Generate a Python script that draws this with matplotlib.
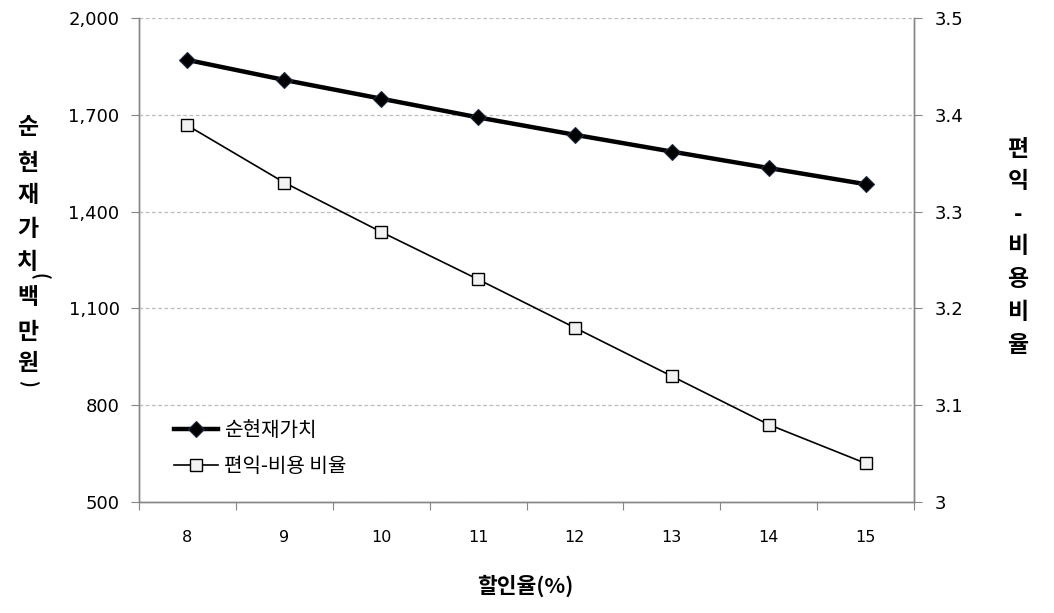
import matplotlib
matplotlib.use("Agg")
import matplotlib.pyplot as plt
from matplotlib.ticker import FixedLocator, FuncFormatter, NullFormatter

plt.rcParams['font.family'] = ['Noto Sans CJK KR', 'DejaVu Sans']

discount_rates = [8, 9, 10, 11, 12, 13, 14, 15]
npv = [1870, 1808, 1750, 1692, 1638, 1586, 1535, 1485]
bc_ratio = [3.389, 3.330, 3.279, 3.230, 3.180, 3.130, 3.080, 3.040]
left_ticks = [500, 800, 1100, 1400, 1700, 2000]
right_ticks = [3.0, 3.1, 3.2, 3.3, 3.4, 3.5]
right_tick_labels = ['3', '3.1', '3.2', '3.3', '3.4', '3.5']
npv_label = '순현재가치'
bc_label = '편익-비용 비율'

W, H = 1054, 613
fig = plt.figure(figsize=(W / 100, H / 100), dpi=100)
ax = fig.add_axes([139 / W, 1 - 502 / H, (914 - 139) / W, (502 - 18) / H])
ax2 = ax.twinx()

spine_c = '#868686'
grid_c = '#bdbdbd'

l1, = ax.plot(discount_rates, npv, color='black', lw=3.2, marker='D', ms=8.5,
              mfc='black', mec='#1f2a44', mew=0.8, zorder=5, label=npv_label)
l2, = ax2.plot(discount_rates, bc_ratio, color='black', lw=1.2, marker='s', ms=8.5,
               mfc='#f2f2f2', mec='black', mew=1.0, zorder=5, label=bc_label)

ax.set_xlim(7.5, 15.5)
ax.set_ylim(500, 2000)
ax2.set_ylim(3.0, 3.5)

ax.set_yticks(left_ticks)
ax.yaxis.set_major_formatter(FuncFormatter(lambda v, p: f'{int(v):,}'))
ax2.set_yticks(right_ticks)
ax2.set_yticklabels(right_tick_labels)

# x ticks at category boundaries, labels at centers
ax.xaxis.set_major_locator(FixedLocator([v + 0.5 for v in [7] + discount_rates]))
ax.xaxis.set_major_formatter(NullFormatter())
ax.xaxis.set_minor_locator(FixedLocator(discount_rates))
ax.xaxis.set_minor_formatter(FuncFormatter(lambda v, p: f'{int(round(v))}'))
ax.tick_params(axis='x', which='major', length=6, color=spine_c, direction='out')
ax.tick_params(axis='x', which='minor', length=0, pad=20, labelsize=11.5)

ax.tick_params(axis='y', length=6, color=spine_c, labelsize=13, pad=8)
ax2.tick_params(axis='y', length=6, color=spine_c, labelsize=13, pad=9)
for lab in ax.get_yticklabels() + ax2.get_yticklabels() + ax.get_xticklabels(minor=True):
    lab.set_family('DejaVu Sans')

ax.yaxis.grid(True, linestyle=(0, (3, 2)), color=grid_c, lw=0.9)
ax.set_axisbelow(True)

for a in (ax, ax2):
    a.spines['top'].set_visible(False)
    for s in ('left', 'right', 'bottom'):
        a.spines[s].set_color(spine_c)
        a.spines[s].set_linewidth(1.0)

leg = ax.legend(handles=[l1, l2], loc='upper left', bbox_to_anchor=(27 / 775, (502 - 412) / 484),
                frameon=False, fontsize=14.5, handlelength=2.2, labelspacing=0.75,
                handletextpad=0.3, borderaxespad=0)

# axis titles
fig.text(525 / W, 1 - 586 / H, '할인율(%)', ha='center', va='center', fontsize=15.5, fontweight='bold')

left_chars = ['순', '현', '재', '가', '치', '백', '만', '원']
left_y = [128, 163, 196, 229, 262, 298, 332, 364]
for ch, y in zip(left_chars, left_y):
    fig.text(28 / W, 1 - y / H, ch, ha='center', va='center', fontsize=16.5, fontweight='bold')
fig.text(39 / W, 1 - 276 / H, '(', ha='center', va='center', fontsize=13, fontweight='bold', rotation=-90)
fig.text(28 / W, 1 - 383 / H, ')', ha='center', va='center', fontsize=13, fontweight='bold', rotation=-90)

right_chars = ['편', '익', '-', '비', '용', '비', '율']
right_y = [150, 182, 214, 247, 280, 313, 345]
for ch, y in zip(right_chars, right_y):
    fig.text(1018 / W, 1 - y / H, ch, ha='center', va='center', fontsize=16.5, fontweight='bold')

fig.savefig('out.png', dpi=100)
